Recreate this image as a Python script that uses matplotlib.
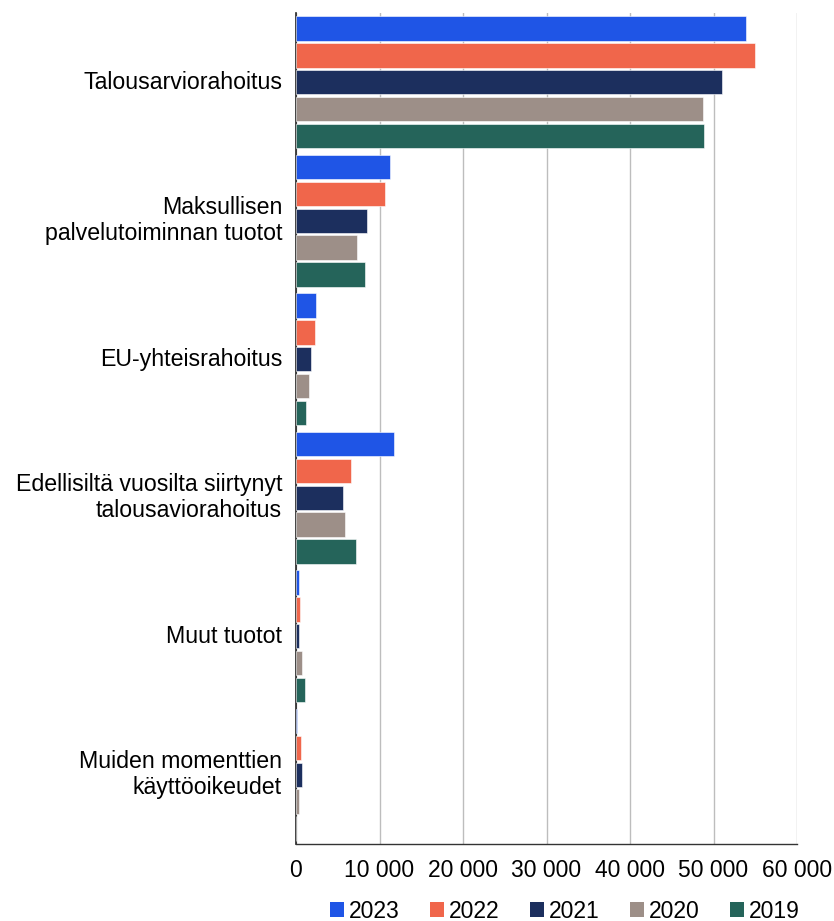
import matplotlib
matplotlib.use("Agg")
import matplotlib.pyplot as plt
from matplotlib.ticker import FuncFormatter, MultipleLocator
from matplotlib.patches import Patch
import numpy as np

plt.rcParams['font.family'] = ['Liberation Sans', 'DejaVu Sans']

categories = [
    "Talousarviorahoitus",
    "Maksullisen\npalvelutoiminnan tuotot",
    "EU-yhteisrahoitus",
    "Edellisiltä vuosilta siirtynyt\ntalousaviorahoitus",
    "Muut tuotot",
    "Muiden momenttien\nkäyttöoikeudet",
]
series_names = ["2023", "2022", "2021", "2020", "2019"]
v2023 = [53900, 11300, 2350, 11750, 360, 160]
v2022 = [55000, 10700, 2250, 6600, 520, 640]
v2021 = [51000, 8500, 1850, 5650, 400, 680]
v2020 = [48800, 7350, 1500, 5900, 760, 400]
v2019 = [48900, 8300, 1250, 7150, 1080, 0]
series_values = [v2023, v2022, v2021, v2020, v2019]
colors = ["#1F55E6", "#F0664B", "#1C2F5E", "#9D8F88", "#25645A"]

fig = plt.figure(figsize=(8.34, 9.21), dpi=100)
ax = fig.add_axes([296/834, 1-844/921, 501/834, 831/921])

slot = 0.194
bh = 0.176
y = np.arange(len(categories))
for j, (vals, col) in enumerate(zip(series_values, colors)):
    ax.barh(y + (j - 2) * slot, vals, height=bh, color=col,
            edgecolor="white", linewidth=0.4, zorder=3)

ax.set_ylim(len(categories) - 0.5, -0.5)
ax.set_xlim(0, 60000)
ax.xaxis.set_major_locator(MultipleLocator(10000))
ax.xaxis.set_major_formatter(FuncFormatter(lambda v, p: f"{int(v):,}".replace(",", " ")))
ax.set_yticks(y)
ax.set_yticklabels(categories, fontsize=16.7, ha="right", va="center", linespacing=1.15)
ax.tick_params(axis="y", length=0, pad=10)
ax.tick_params(axis="x", length=0, pad=11, labelsize=16.5)
ax.grid(axis="x", color="#BDBDBD", linewidth=1.0, zorder=0)
ax.set_axisbelow(True)
for s in ["top", "right"]:
    ax.spines[s].set_visible(False)
ax.spines["left"].set_color("#222222")
ax.spines["left"].set_linewidth(1.2)
ax.spines["bottom"].set_color("#333333")
ax.spines["bottom"].set_linewidth(1.0)

handles = [Patch(facecolor=c, edgecolor="none") for c in colors]
fig.legend(handles, series_names, loc="center", bbox_to_anchor=(565/834, 1-911/921),
           ncol=5, frameon=False, fontsize=16.5, handlelength=0.6, handleheight=0.6,
           handletextpad=0.25, columnspacing=1.3, borderaxespad=0, borderpad=0)

fig.savefig("out.png", dpi=100)
